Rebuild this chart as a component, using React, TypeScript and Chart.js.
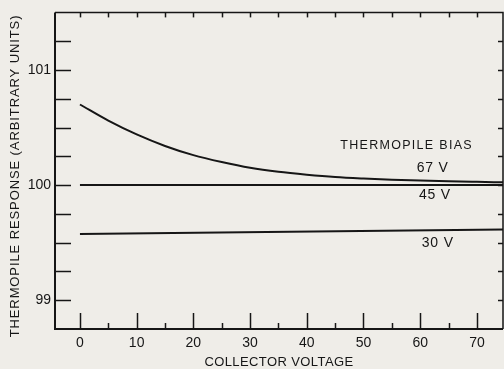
import React, { useEffect, useRef } from "react";
import { Chart, registerables } from "chart.js";

Chart.register(...registerables);

// Axis ticks
const xTickValues = [0, 10, 20, 30, 40, 50, 60, 70];
const xMinorValues = [5, 15, 25, 35, 45, 55, 65];
const topTickValues = [0, 5, 10, 15, 20, 25, 30, 35, 40, 45, 50, 55, 60, 65, 70];
const yTickValues = [99, 100, 101];
const yQuarterValues = [99, 99.25, 99.5, 99.75, 100, 100.25, 100.5, 100.75, 101, 101.25];

// Series: 67 V bias
const bias67X = [0, 5, 10, 15, 20, 25, 30, 35, 40, 45, 50, 55, 60, 65, 70, 74.6];
const bias67Y = [100.7, 100.56, 100.44, 100.34, 100.26, 100.2, 100.15, 100.115, 100.09, 100.07, 100.057, 100.047, 100.04, 100.033, 100.028, 100.024];
// Series: 45 V bias
const bias45X = [0, 74.6];
const bias45Y = [100.0, 100.0];
// Series: 30 V bias
const bias30X = [0, 37, 74.6];
const bias30Y = [99.575, 99.595, 99.615];

// Text labels (in data units)
const labelTexts = ["THERMOPILE BIAS", "67 V", "45 V", "30 V"];
const labelX = [57.6, 62.2, 62.6, 63.1];
const labelY = [100.34, 100.15, 99.91, 99.5];

const xTitle = "COLLECTOR VOLTAGE";
const yTitle = "THERMOPILE RESPONSE (ARBITRARY UNITS)";

const INK = "#161616";
const BG = "#efede8";
const FONT = "'Liberation Sans', Arial, sans-serif";

const toPoints = (xs: number[], ys: number[]) => xs.map((x, i) => ({ x, y: ys[i] }));

const framePlugin = {
  id: "framePlugin",
  beforeDraw(chart: any) {
    const ctx = chart.ctx;
    ctx.save();
    ctx.fillStyle = BG;
    ctx.fillRect(0, 0, chart.width, chart.height);
    ctx.restore();
  },
  afterDraw(chart: any) {
    const ctx = chart.ctx;
    const { left, right, top, bottom } = chart.chartArea;
    const xs = chart.scales.x;
    const ys = chart.scales.y;
    ctx.save();
    ctx.strokeStyle = INK;
    ctx.lineCap = "butt";

    // frame
    ctx.lineWidth = 2;
    ctx.beginPath();
    ctx.moveTo(left, top);
    ctx.lineTo(left, bottom);
    ctx.lineTo(right, bottom);
    ctx.stroke();
    ctx.lineWidth = 1.5;
    ctx.beginPath();
    ctx.moveTo(left, top);
    ctx.lineTo(right, top);
    ctx.lineTo(right, bottom);
    ctx.stroke();

    ctx.lineWidth = 1.5;
    // left ticks (inward)
    yQuarterValues.forEach((v) => {
      const y = Math.round(ys.getPixelForValue(v)) + 0.5;
      ctx.beginPath();
      ctx.moveTo(left, y);
      ctx.lineTo(left + 16, y);
      ctx.stroke();
    });
    // right ticks
    yQuarterValues.forEach((v) => {
      const y = Math.round(ys.getPixelForValue(v)) + 0.5;
      ctx.beginPath();
      ctx.moveTo(right, y);
      ctx.lineTo(right - 5, y);
      ctx.stroke();
    });
    // top ticks
    topTickValues.forEach((v) => {
      const x = Math.round(xs.getPixelForValue(v)) + 0.5;
      ctx.beginPath();
      ctx.moveTo(x, top);
      ctx.lineTo(x, top + 5);
      ctx.stroke();
    });
    // bottom ticks
    xTickValues.forEach((v) => {
      const x = Math.round(xs.getPixelForValue(v)) + 0.5;
      ctx.beginPath();
      ctx.moveTo(x, bottom);
      ctx.lineTo(x, bottom - 16);
      ctx.stroke();
    });
    xMinorValues.forEach((v) => {
      const x = Math.round(xs.getPixelForValue(v)) + 0.5;
      ctx.beginPath();
      ctx.moveTo(x, bottom);
      ctx.lineTo(x, bottom - 6);
      ctx.stroke();
    });

    // annotations
    ctx.fillStyle = INK;
    ctx.textAlign = "center";
    ctx.textBaseline = "middle";
    labelTexts.forEach((t, i) => {
      const px = xs.getPixelForValue(labelX[i]);
      const py = ys.getPixelForValue(labelY[i]);
      if (i === 0) {
        ctx.font = `12.5px ${FONT}`;
        (ctx as any).letterSpacing = "1.3px";
      } else {
        ctx.font = `14px ${FONT}`;
        (ctx as any).letterSpacing = "0.8px";
      }
      ctx.fillText(t, px, py);
    });

    // x title
    ctx.font = `13px ${FONT}`;
    (ctx as any).letterSpacing = "0.4px";
    ctx.fillText(xTitle, (left + right) / 2 + 0, 362);

    // y title
    ctx.save();
    ctx.translate(15, 176);
    ctx.rotate(-Math.PI / 2);
    ctx.font = `13px ${FONT}`;
    (ctx as any).letterSpacing = "0.9px";
    ctx.fillText(yTitle, 0, 0);
    ctx.restore();

    (ctx as any).letterSpacing = "0px";
    ctx.restore();
  },
};

export default function App() {
  const ref = useRef<HTMLCanvasElement | null>(null);

  useEffect(() => {
    if (!ref.current) return;
    const line = (xs: number[], ys: number[], smooth: boolean) => ({
      data: toPoints(xs, ys),
      borderColor: INK,
      borderWidth: 2,
      pointRadius: 0,
      fill: false,
      cubicInterpolationMode: smooth ? "monotone" : "default",
    });
    const chart = new Chart(ref.current, {
      type: "line",
      data: {
        datasets: [
          { label: "67 V", ...line(bias67X, bias67Y, true) },
          { label: "45 V", ...line(bias45X, bias45Y, false) },
          { label: "30 V", ...line(bias30X, bias30Y, false) },
        ] as any,
      },
      options: {
        responsive: false,
        maintainAspectRatio: false,
        animation: false,
        layout: { padding: { top: 11, right: 1, left: 0, bottom: 0 } },
        plugins: { legend: { display: false }, tooltip: { enabled: false } },
        scales: {
          x: {
            type: "linear",
            min: -4.4,
            max: 74.6,
            grid: { display: false, drawTicks: false },
            border: { display: false },
            afterBuildTicks: (axis: any) => {
              axis.ticks = xTickValues.map((v) => ({ value: v }));
            },
            afterFit: (axis: any) => {
              axis.height = 40;
            },
            ticks: {
              autoSkip: false,
              maxRotation: 0,
              padding: 6,
              color: INK,
              font: { family: FONT, size: 14 },
              callback: (v: any) => String(v),
            },
          },
          y: {
            type: "linear",
            min: 98.75,
            max: 101.5,
            grid: { display: false, drawTicks: false },
            border: { display: false },
            afterBuildTicks: (axis: any) => {
              axis.ticks = yTickValues.map((v) => ({ value: v }));
            },
            afterFit: (axis: any) => {
              axis.width = 55;
            },
            ticks: {
              autoSkip: false,
              padding: 4,
              color: INK,
              font: { family: FONT, size: 14 },
              callback: (v: any) => String(v),
            },
          },
        },
      } as any,
      plugins: [framePlugin],
    });
    return () => chart.destroy();
  }, []);

  return (
    <div style={{ position: "absolute", left: 0, top: 0, width: 504, height: 369, background: BG }}>
      <canvas ref={ref} width={504} height={369} style={{ display: "block" }} />
    </div>
  );
}
